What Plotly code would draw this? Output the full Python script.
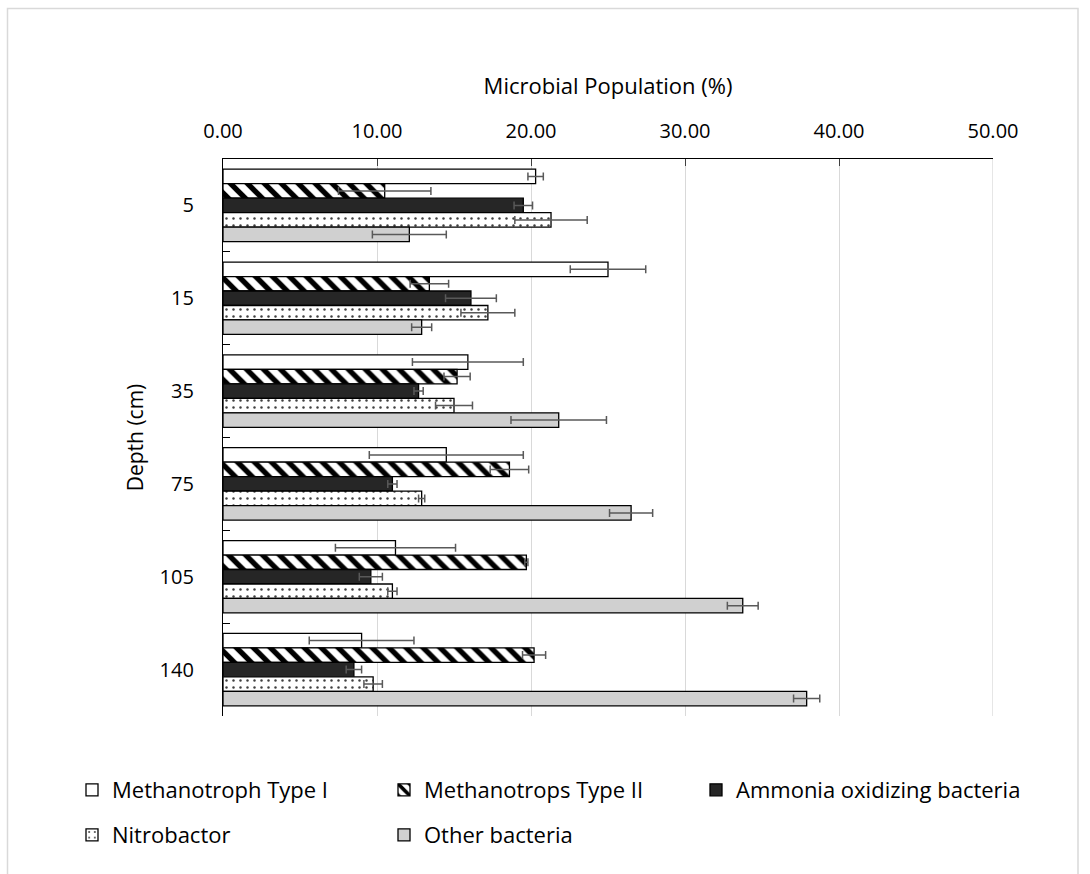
import plotly.graph_objects as go

# ---- data ----
depths = ["5", "15", "35", "75", "105", "140"]
series_names = ["Methanotroph Type I", "Methanotrops Type II",
                "Ammonia oxidizing bacteria", "Nitrobactor", "Other bacteria"]
type1 = [20.3, 25.0, 15.9, 14.5, 11.2, 9.0]
type1_err = [0.5, 2.45, 3.6, 5.0, 3.9, 3.4]
type2 = [10.5, 13.4, 15.2, 18.6, 19.7, 20.2]
type2_err = [3.0, 1.25, 0.85, 1.25, 0.1, 0.75]
ammonia = [19.5, 16.1, 12.7, 11.0, 9.6, 8.5]
ammonia_err = [0.6, 1.65, 0.3, 0.3, 0.75, 0.5]
nitro = [21.3, 17.2, 15.0, 12.9, 11.0, 9.75]
nitro_err = [2.35, 1.75, 1.2, 0.2, 0.3, 0.6]
other = [12.1, 12.9, 21.8, 26.5, 33.75, 37.9]
other_err = [2.4, 0.65, 3.1, 1.4, 1.0, 0.85]
x_ticks = [0, 10, 20, 30, 40, 50]

FONT = "Open Sans"
W, H = 1090, 874
ML, MR, MT, MB = 223, 97, 159, 158

values = [type1, type2, ammonia, nitro, other]
errors = [type1_err, type2_err, ammonia_err, nitro_err, other_err]
styles = [
    dict(color="white"),
    dict(color="white", pattern=dict(shape="\\", fgcolor="black", bgcolor="white",
                                     size=12, solidity=0.45, fillmode="replace")),
    dict(color="#262626"),
    dict(color="white", pattern=dict(shape=".", fgcolor="#404040", bgcolor="white",
                                     size=7, solidity=0.1, fillmode="replace")),
    dict(color="#d0d0d0"),
]
legends = ["legend", "legend", "legend3", "legend2", "legend2"]

fig = go.Figure()
for name, v, e, st, lg in zip(series_names, values, errors, styles, legends):
    marker = dict(st)
    marker["line"] = dict(color="black", width=1.3)
    fig.add_trace(go.Bar(
        name=name, y=depths, x=v, orientation="h",
        marker=marker, legend=lg,
        error_x=dict(type="data", array=e, visible=True, color="#595959",
                     thickness=1.5, width=4),
    ))

pw = W - ML - MR
ph = H - MT - MB
def fx(px):
    return (px - ML) / pw
def fy(py):
    return (H - MB - py) / ph

leg_common = dict(orientation="h", yanchor="middle", xanchor="left",
                  font=dict(family=FONT, size=22), bgcolor="rgba(0,0,0,0)")

fig.update_layout(
    width=W, height=H,
    margin=dict(l=ML, r=MR, t=MT, b=MB),
    paper_bgcolor="white", plot_bgcolor="white",
    barmode="group", bargap=0.22, bargroupgap=0,
    font=dict(family=FONT, size=20, color="black"),
    xaxis=dict(
        side="top", range=[0, 50], tickvals=x_ticks, tickformat=".2f",
        tickfont=dict(size=20),
        showgrid=True, gridcolor="#d9d9d9", gridwidth=1.3,
        showline=True, linecolor="black", linewidth=1.3,
        ticks="inside", ticklen=7, tickcolor="#404040",
        ticklabelstandoff=12, zeroline=False,
        title=dict(text="Microbial Population (%)", standoff=16,
                   font=dict(family=FONT, size=22)),
    ),
    yaxis=dict(
        type="category", autorange="reversed",
        tickson="boundaries", ticks="inside", ticklen=7, tickcolor="black",
        tickfont=dict(size=20),
        showline=True, linecolor="black", linewidth=1.3, showgrid=False,
        ticklabelstandoff=24,
        title=dict(text="Depth (cm)", standoff=10, font=dict(family=FONT, size=21)),
    ),
    legend=dict(x=fx(72), y=fy(790), entrywidth=267, **leg_common),
    legend2=dict(x=fx(72), y=fy(835), entrywidth=267, **leg_common),
    legend3=dict(x=fx(696), y=fy(790), **leg_common),
    showlegend=True,
    shapes=[
        dict(type="rect", xref="paper", yref="paper",
             x0=fx(7.5), x1=fx(1078), y0=fy(900), y1=fy(8.5),
             line=dict(color="#d9d9d9", width=1.5), layer="below"),
        dict(type="line", xref="x", yref="paper",
             x0=x_ticks[-1], x1=x_ticks[-1], y0=0, y1=1,
             line=dict(color="#d9d9d9", width=1.3), layer="below"),
    ],
)

fig.write_html("out.html")
